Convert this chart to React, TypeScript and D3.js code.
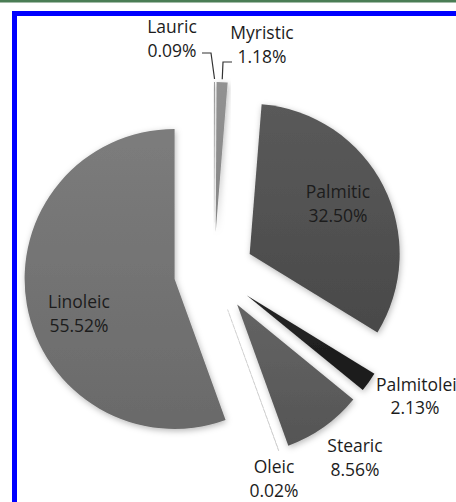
import React from "react";
import * as d3 from "d3";

const categories = ["Lauric", "Myristic", "Palmitic", "Palmitolei", "Stearic", "Oleic", "Linoleic"];
const values = [0.09, 1.18, 32.5, 2.13, 8.56, 0.02, 55.52];
const valueLabels = ["0.09%", "1.18%", "32.50%", "2.13%", "8.56%", "0.02%", "55.52%"];
const colorsTop = ["#8e8e8e", "#929292", "#5a5a5a", "#262626", "#646464", "#b0b0b0", "#7c7c7c"];
const colorsBottom = ["#808080", "#868686", "#494949", "#1a1a1a", "#555555", "#a0a0a0", "#6a6a6a"];

// label layout (x, first baseline, anchor)
const labelPos: Record<string, [number, number, string]> = {
  Lauric: [172, 33, "middle"],
  Myristic: [262, 39, "middle"],
  Palmitic: [338, 198, "middle"],
  Palmitolei: [376, 391, "start"],
  Stearic: [355, 452, "middle"],
  Oleic: [274, 473, "middle"],
  Linoleic: [79, 308, "middle"],
};

const W = 456;
const H = 502;
const cx = 214;
const cy = 272;
const R = 150;
const explode = 40;

export default function App() {
  const pie = d3.pie<number>().sort(null).startAngle(0).endAngle(2 * Math.PI);
  const arcs = pie(values);
  const arcGen = d3.arc<d3.PieArcDatum<number>>().innerRadius(0).outerRadius(R);

  const offsets = arcs.map((a) => {
    const m = (a.startAngle + a.endAngle) / 2;
    return [explode * Math.sin(m), -explode * Math.cos(m)];
  });
  const outer = (i: number, r: number) => {
    const a = arcs[i];
    const m = (a.startAngle + a.endAngle) / 2;
    return [cx + offsets[i][0] + r * Math.sin(m), cy + offsets[i][1] - r * Math.cos(m)];
  };

  const lauricOuter = outer(0, R + 3);
  const myrOuter = outer(1, R + 3);

  return (
    <svg width={W} height={H} style={{ display: "block", position: "absolute", left: 0, top: 0 }}>
      <defs>
        {categories.map((c, i) => (
          <linearGradient key={c} id={`g${i}`} x1="0" y1="0" x2="0" y2="1">
            <stop offset="0%" stopColor={colorsTop[i]} />
            <stop offset="100%" stopColor={colorsBottom[i]} />
          </linearGradient>
        ))}
        <filter id="sh" x="-20%" y="-20%" width="140%" height="140%">
          <feDropShadow dx="1" dy="2" stdDeviation="3" floodColor="#000" floodOpacity="0.28" />
        </filter>
      </defs>
      <rect x={0} y={0} width={W} height={H} fill="#fff" />
      <rect x={0} y={0} width={W} height={2.5} fill="#4a7d55" />
      <rect x={14.5} y={13.5} width={W + 20} height={H + 20} fill="none" stroke="#0000ff" strokeWidth={5} />
      <g>
        {arcs.map((a, i) => (
          <path
            key={categories[i]}
            d={arcGen(a) || ""}
            transform={`translate(${cx + offsets[i][0]},${cy + offsets[i][1]})`}
            fill={`url(#g${i})`}
            stroke={i === 5 ? "#c8c8c8" : "none"}
            strokeWidth={i === 5 ? 0.8 : 0}
            strokeDasharray={i === 5 ? "3,3" : undefined}
            filter={i === 5 ? undefined : "url(#sh)"}
          />
        ))}
      </g>
      <polyline
        points={`${lauricOuter[0]},${lauricOuter[1]} 211,53 202,53`}
        fill="none"
        stroke="#333"
        strokeWidth={1.2}
      />
      <polyline
        points={`${myrOuter[0]},${myrOuter[1]} 223,62 232,62`}
        fill="none"
        stroke="#333"
        strokeWidth={1.2}
      />
      <g fontFamily="'Open Sans', sans-serif" fontSize={17.5} fill="#1c1c1c">
        {categories.map((c, i) => {
          const [x, y, anchor] = labelPos[c];
          const x2 = c === "Palmitolei" ? 415 : x;
          const dy2 = c === "Palmitolei" ? 23 : 24;
          return (
            <g key={c}>
              <text x={x} y={y} textAnchor={anchor as any}>{c}</text>
              <text x={x2} y={y + dy2} textAnchor="middle">{valueLabels[i]}</text>
            </g>
          );
        })}
      </g>
    </svg>
  );
}
